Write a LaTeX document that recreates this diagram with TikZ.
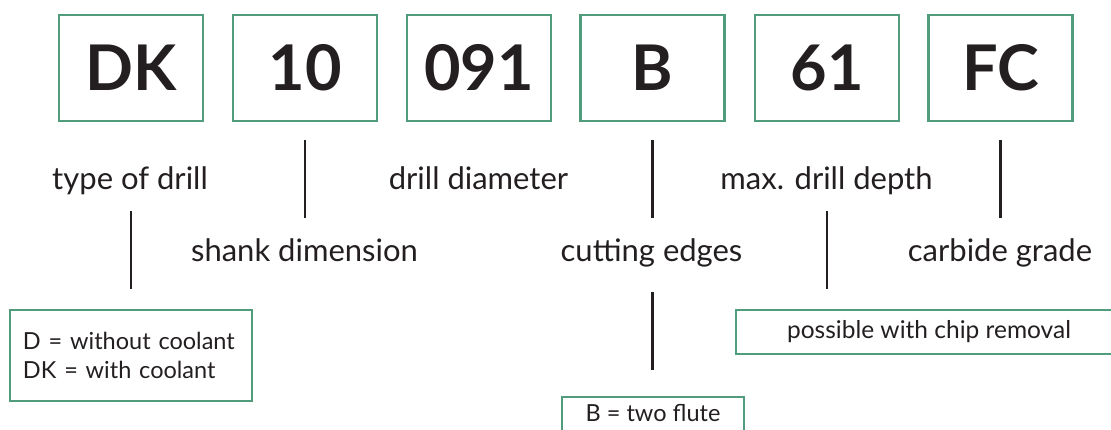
\documentclass[tikz,border=0pt]{standalone}
\usepackage{fontspec}
\setmainfont{Lato}
\usetikzlibrary{calc}
\definecolor{grn}{HTML}{519C7C}
\definecolor{ink}{HTML}{231F20}
\begin{document}
\begin{tikzpicture}[x=1pt,y=-1pt,
 codebox/.style={draw=grn,line width=2.6pt,minimum width=144pt,minimum height=106pt,inner sep=0pt,font=\fontsize{63}{63}\selectfont\bfseries,text=ink},
 lbl/.style={anchor=base,inner sep=0pt,text height=22pt,text depth=7pt,font=\fontsize{31}{31}\selectfont,text=ink},
 notebox/.style={draw=grn,line width=2.2pt,inner sep=0pt,font=\fontsize{23.5}{29}\selectfont,text=ink},
 conn/.style={draw=ink,line width=2.6pt},
]
\useasboundingbox (0,0) rectangle (1111,430);
\clip (0,0) rectangle (1111,430);
% code boxes
\node[codebox] (b1) at (131,68) {DK};
\node[codebox] (b2) at (305,68) {10};
\node[codebox] (b3) at (479,68) {091};
\node[codebox] (b4) at (652.5,68) {B};
\node[codebox] (b5) at (827,68) {61};
\node[codebox] (b6) at (1000.5,68) {FC};
% labels
\node[lbl] (ltype) at (130,190) {type of drill};
\node[lbl] (ldia) at (478.5,190) {drill diameter};
\node[lbl] (ldepth) at (826.5,190) {max. drill depth};
\node[lbl] (lshank) at (304.5,262) {shank dimension};
\node[lbl] (lcut) at (651.5,262) {cutting edges};
\node[lbl] (lcarb) at (1000,262) {carbide grade};
% note boxes
\node[notebox,minimum width=242pt,minimum height=91pt,align=left,text width=216pt] (ndk) at (131,355.5) {D = without coolant\\DK = with coolant};
\node[notebox,minimum width=386pt,minimum height=44pt,font=\fontsize{24.5}{29}\selectfont] (nposs) at (929,332) {possible with chip removal};
\node[notebox,minimum width=182pt,text height=24pt,text depth=20pt,anchor=north] (nflute) at (653,396) {B = two flute};
% connectors
\draw[conn,shorten <=18pt,shorten >=22pt] (b2.south) -- (b2.south |- lshank.north);
\draw[conn,shorten <=18pt,shorten >=22pt] (b4.south) -- (b4.south |- lcut.north);
\draw[conn,shorten <=18pt,shorten >=22pt] (b6.south) -- (b6.south |- lcarb.north);
\draw[conn,shorten <=14pt,shorten >=20pt] (b1.south |- ltype.south) -- (b1.south |- ndk.north);
\draw[conn,shorten <=14pt,shorten >=20pt] (b5.south |- ldepth.south) -- (b5.south |- nposs.north);
\draw[conn,shorten <=23pt,shorten >=26pt] (b4.south |- lcut.south) -- (b4.south |- nflute.north);
\end{tikzpicture}
\end{document}
